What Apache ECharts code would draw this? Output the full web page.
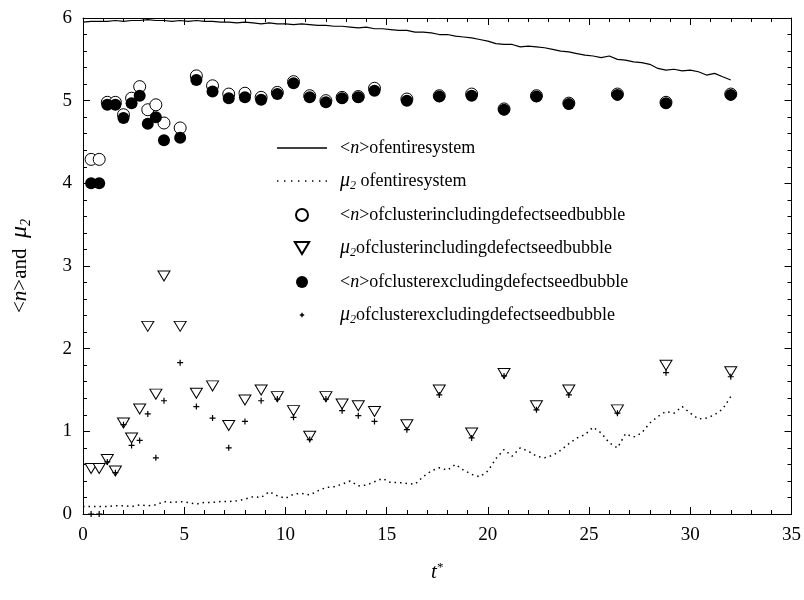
<!DOCTYPE html>
<html>
<head>
<meta charset="utf-8">
<script src="https://cdn.jsdelivr.net/npm/echarts@6/dist/echarts.min.js"></script>
<style>
  html, body { margin: 0; padding: 0; background: #fff; }
  #chart { width: 804px; height: 600px; }
</style>
</head>
<body>
<div id="chart"></div>
<script>
// sampling step (t*) of the two whole-system curves, first sample at t* = 0
var lineStep = 0.4;

// <n> of entire system
var nEntire = [
  5.95, 5.96, 5.96, 5.96, 5.97, 5.96, 5.97, 5.97, 5.98, 5.97,
  5.97, 5.96, 5.97, 5.96, 5.97, 5.96, 5.96, 5.95, 5.95, 5.94,
  5.95, 5.94, 5.93, 5.94, 5.93, 5.93, 5.92, 5.93, 5.92, 5.91,
  5.91, 5.90, 5.90, 5.89, 5.88, 5.89, 5.87, 5.87, 5.86, 5.85,
  5.85, 5.83, 5.83, 5.82, 5.80, 5.80, 5.78, 5.77, 5.76, 5.74,
  5.72, 5.69, 5.68, 5.68, 5.65, 5.66, 5.65, 5.64, 5.62, 5.60,
  5.59, 5.57, 5.55, 5.54, 5.52, 5.54, 5.50, 5.49, 5.47, 5.46,
  5.44, 5.39, 5.37, 5.38, 5.36, 5.37, 5.35, 5.31, 5.33, 5.29,
  5.25
];

// mu2 of entire system
var mu2Entire = [
  0.09, 0.09, 0.09, 0.09, 0.10, 0.10, 0.09, 0.11, 0.10, 0.11,
  0.15, 0.14, 0.15, 0.14, 0.12, 0.14, 0.14, 0.15, 0.15, 0.16,
  0.18, 0.21, 0.20, 0.27, 0.22, 0.19, 0.24, 0.25, 0.23, 0.28,
  0.32, 0.33, 0.36, 0.40, 0.34, 0.35, 0.39, 0.43, 0.38, 0.38,
  0.37, 0.36, 0.45, 0.52, 0.56, 0.53, 0.60, 0.53, 0.48, 0.45,
  0.52, 0.67, 0.78, 0.70, 0.80, 0.76, 0.70, 0.68, 0.71, 0.77,
  0.85, 0.92, 0.96, 1.05, 0.98, 0.86, 0.80, 0.97, 0.93, 0.98,
  1.10, 1.18, 1.24, 1.22, 1.30, 1.22, 1.15, 1.16, 1.20, 1.27,
  1.42
];

// times of the cluster snapshots
var clusterT = [0.4, 0.8, 1.2, 1.6, 2.0, 2.4, 2.8, 3.2, 3.6, 4.0, 4.8, 5.6, 6.4, 7.2, 8.0, 8.8,
  9.6, 10.4, 11.2, 12.0, 12.8, 13.6, 14.4, 16.0, 17.6, 19.2, 20.8, 22.4, 24.0, 26.4, 28.8, 32.0];

var nIncl = [4.29, 4.29, 4.98, 4.98, 4.83, 5.03, 5.17, 4.89, 4.95, 4.73, 4.67, 5.30, 5.18, 5.08, 5.09, 5.04,
  5.10, 5.23, 5.06, 5.00, 5.04, 5.05, 5.15, 5.02, 5.06, 5.08, 4.90, 5.06, 4.97, 5.08, 4.98, 5.08];
var mu2Incl = [0.55, 0.55, 0.66, 0.52, 1.10, 0.92, 1.27, 2.27, 1.45, 2.88, 2.27, 1.46, 1.55, 1.07, 1.38, 1.50,
  1.42, 1.25, 0.94, 1.42, 1.33, 1.31, 1.24, 1.08, 1.50, 0.98, 1.70, 1.31, 1.50, 1.26, 1.80, 1.72];
var nExcl = [4.00, 4.00, 4.95, 4.95, 4.79, 4.97, 5.06, 4.72, 4.80, 4.52, 4.55, 5.25, 5.11, 5.03, 5.04, 5.01,
  5.08, 5.21, 5.04, 4.98, 5.03, 5.04, 5.12, 5.00, 5.05, 5.06, 4.89, 5.05, 4.96, 5.07, 4.97, 5.07];
var mu2Excl = [0.00, 0.00, 0.63, 0.50, 1.08, 0.83, 0.89, 1.21, 0.68, 1.37, 1.83, 1.30, 1.16, 0.80, 1.12, 1.37,
  1.39, 1.17, 0.90, 1.39, 1.25, 1.19, 1.12, 1.02, 1.44, 0.92, 1.67, 1.26, 1.44, 1.22, 1.71, 1.66];

var legendLabels = {
  nEnt: '<{i|n}>ofentiresystem',
  muEnt: '{mu|\u03bc}{sub|2} ofentiresystem',
  nIn: '<{i|n}>ofclusterincludingdefectseedbubble',
  muIn: '{mu|\u03bc}{sub|2}ofclusterincludingdefectseedbubble',
  nEx: '<{i|n}>ofclusterexcludingdefectseedbubble',
  muEx: '{mu|\u03bc}{sub|2}ofclusterexcludingdefectseedbubble'
};

var serif = '"Liberation Serif", "DejaVu Serif", serif';
var triangle = 'path://M0,0 L12,0 L6,10 Z';
var plus = 'path://M2,0 L3,0 L3,2 L5,2 L5,3 L3,3 L3,5 L2,5 L2,3 L0,3 L0,2 L2,2 Z';
var plusIcon = 'path://M0,0 M12,12 M5.3,3.8 L6.7,3.8 L6.7,5.3 L8.2,5.3 L8.2,6.7 L6.7,6.7 L6.7,8.2 L5.3,8.2 L5.3,6.7 L3.8,6.7 L3.8,5.3 L5.3,5.3 Z';
var solidIcon = 'path://M0,0 L50,0 L50,1.3 L0,1.3 Z';
var dotIcon = 'path://M0,0 h1.4 v1.4 h-1.4 Z M7,0 h1.4 v1.4 h-1.4 Z M14,0 h1.4 v1.4 h-1.4 Z M21,0 h1.4 v1.4 h-1.4 Z ' +
  'M28,0 h1.4 v1.4 h-1.4 Z M35,0 h1.4 v1.4 h-1.4 Z M42,0 h1.4 v1.4 h-1.4 Z M48.6,0 h1.4 v1.4 h-1.4 Z';

function pairsByStep(values) {
  return values.map(function (v, i) { return [Math.round(i * lineStep * 10) / 10, v]; });
}

function pairs(ts, values) {
  return ts.map(function (t, i) { return [t, values[i]]; });
}

var richText = {
  i: { fontFamily: serif, fontSize: 18, fontStyle: 'italic', color: '#000' },
  mu: { fontFamily: serif, fontSize: 20, fontStyle: 'italic', color: '#000' },
  sub: { fontFamily: serif, fontSize: 12, fontStyle: 'italic', color: '#000', padding: [10, 0, 0, 0] },
  sup: { fontFamily: serif, fontSize: 13, color: '#000', padding: [0, 0, 10, 0] }
};

var yNameRich = {
  i: { fontFamily: serif, fontSize: 21, fontStyle: 'italic', color: '#000' },
  mu: { fontFamily: serif, fontSize: 24, fontStyle: 'italic', color: '#000' },
  sub: { fontFamily: serif, fontSize: 14, fontStyle: 'italic', color: '#000', padding: [12, 0, 0, 0] }
};

function frameAxis(base) {
  var axis = {
    type: 'value',
    axisLine: { show: true, onZero: false, lineStyle: { color: '#000', width: 1 } },
    axisTick: { show: true, inside: true, length: 7, lineStyle: { color: '#000' } },
    minorTick: { show: true, splitNumber: 5, length: 4, lineStyle: { color: '#000' } },
    splitLine: { show: false },
    axisLabel: { show: false }
  };
  for (var k in base) axis[k] = base[k];
  return axis;
}

var chart = echarts.init(document.getElementById('chart'));

chart.setOption({
  animation: false,
  backgroundColor: '#fff',
  grid: { left: 83, right: 12, top: 18, bottom: 86 },
  legend: {
    left: 272,
    top: 134,
    orient: 'vertical',
    itemWidth: 50,
    itemHeight: 12,
    itemGap: 14,
    selectedMode: false,
    formatter: function (name) { return legendLabels[name]; },
    textStyle: { fontFamily: serif, fontSize: 18, color: '#000', padding: [0, 0, 0, 8], rich: richText },
    data: [
      { name: 'nEnt', icon: solidIcon },
      { name: 'muEnt', icon: dotIcon },
      { name: 'nIn' },
      { name: 'muIn' },
      { name: 'nEx' },
      { name: 'muEx', icon: plusIcon }
    ]
  },
  xAxis: [
    frameAxis({
      position: 'bottom', min: 0, max: 35, interval: 5,
      axisLabel: { show: true, fontFamily: serif, fontSize: 19, color: '#000', margin: 12 },
      name: '{t|t}{sup|*}',
      nameLocation: 'middle',
      nameGap: 47,
      nameTextStyle: {
        fontFamily: serif, fontSize: 20, color: '#000',
        rich: {
          t: { fontFamily: serif, fontSize: 21, fontStyle: 'italic', color: '#000' },
          sup: richText.sup
        }
      }
    }),
    frameAxis({ position: 'top', min: 0, max: 35, interval: 5 })
  ],
  yAxis: [
    frameAxis({
      position: 'left', min: 0, max: 6, interval: 1,
      axisLabel: { show: true, fontFamily: serif, fontSize: 19, color: '#000', margin: 11 },
      name: '<{i|n}>and  {mu|\u03bc}{sub|2}',
      nameLocation: 'middle',
      nameGap: 50,
      nameTextStyle: { fontFamily: serif, fontSize: 21, color: '#000', rich: yNameRich }
    }),
    frameAxis({ position: 'right', min: 0, max: 6, interval: 1 })
  ],
  series: [
    {
      name: 'nEnt',
      type: 'line',
      symbol: 'none',
      lineStyle: { color: '#000', width: 1.2 },
      itemStyle: { color: '#000' },
      data: pairsByStep(nEntire),
      z: 2
    },
    {
      name: 'muEnt',
      type: 'line',
      symbol: 'none',
      lineStyle: { color: '#000', width: 1.5, type: [1.5, 4] },
      itemStyle: { color: '#000' },
      data: pairsByStep(mu2Entire),
      z: 2
    },
    {
      name: 'muIn',
      type: 'scatter',
      symbol: triangle,
      symbolSize: [12, 10],
      itemStyle: { color: '#fff', borderColor: '#000', borderWidth: 1, opacity: 1 },
      data: pairs(clusterT, mu2Incl),
      z: 3
    },
    {
      name: 'muEx',
      type: 'scatter',
      symbol: plus,
      symbolSize: 6,
      itemStyle: { color: '#000', opacity: 1 },
      data: pairs(clusterT, mu2Excl),
      z: 4
    },
    {
      name: 'nIn',
      type: 'scatter',
      symbol: 'circle',
      symbolSize: 12,
      itemStyle: { color: '#fff', borderColor: '#000', borderWidth: 1, opacity: 1 },
      data: pairs(clusterT, nIncl),
      z: 3
    },
    {
      name: 'nEx',
      type: 'scatter',
      symbol: 'circle',
      symbolSize: 12,
      itemStyle: { color: '#000', opacity: 1 },
      data: pairs(clusterT, nExcl),
      z: 4
    }
  ]
});
</script>
</body>
</html>
